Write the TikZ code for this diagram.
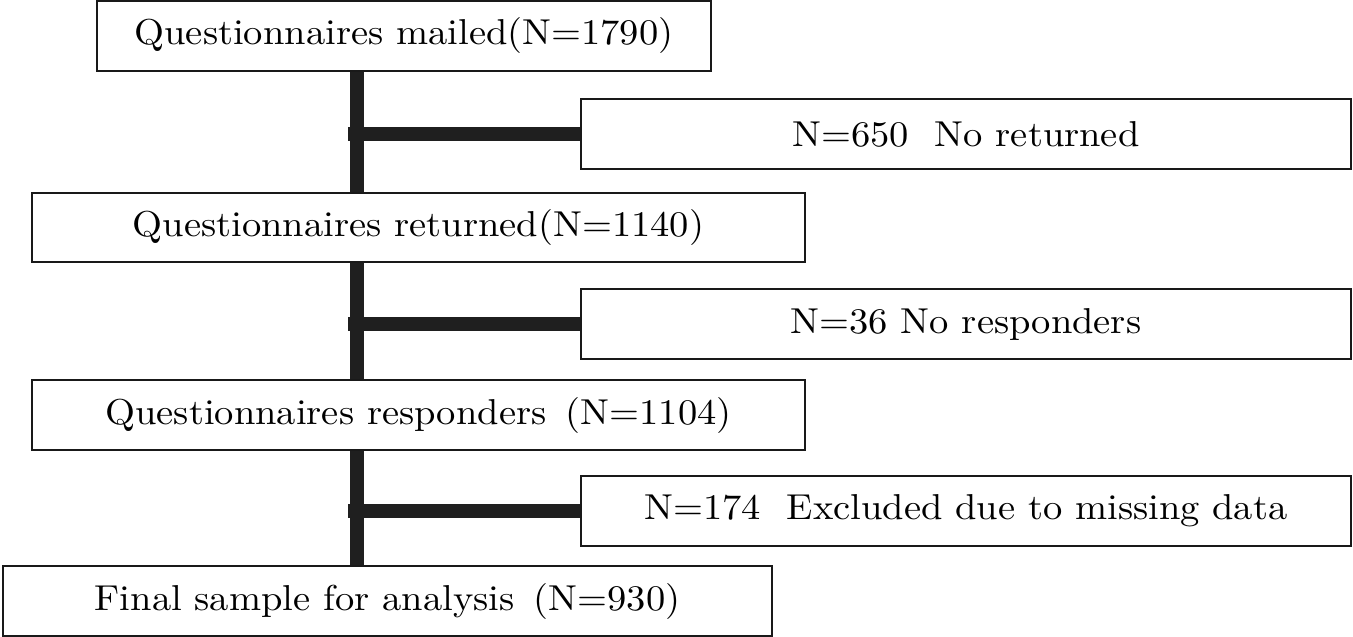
\documentclass[tikz,border=0pt]{standalone}
\usepackage{fontspec}
\setmainfont{lmroman10-regular.otf}
\usepackage{graphicx}
\newcommand{\sqz}[1]{\scalebox{1.07}[1]{#1}}
\tikzset{
  box/.style={draw=black!90, line width=2.5pt, rectangle, inner sep=0pt, fill=white,
    font=\fontsize{36}{40}\selectfont},
  conn/.style={line width=14pt, draw=black!88}
}
\begin{document}
\begin{tikzpicture}[x=1pt,y=-1pt]
\useasboundingbox (0,0) rectangle (1353,637);
\coordinate (v) at (357,0);
% main boxes
\node[box, minimum width=614pt, minimum height=70pt] (b1) at (404,36) {\sqz{Questionnaires mailed(N=1790)}};
\node[box, minimum width=773pt, minimum height=69pt] (b2) at (418.5,227.5) {\sqz{Questionnaires returned(N=1140)}};
\node[box, minimum width=773pt, minimum height=70pt] (b3) at (418.5,415) {\sqz{Questionnaires responders\enspace(N=1104)}};
\node[box, minimum width=769pt, minimum height=70pt] (b4) at (387.5,601) {\sqz{Final sample for analysis\enspace(N=930)}};
% side boxes
\node[box, minimum width=770pt, minimum height=70pt] (s1) at (966,134) {\sqz{N=650\ \ No returned}};
\node[box, minimum width=770pt, minimum height=70pt] (s2) at (966,324) {\sqz{N=36 No responders}};
\node[box, minimum width=770pt, minimum height=70pt] (s3) at (966,511) {\sqz{N=174\ \ Excluded due to missing data}};
% connectors
\draw[conn] (b1.south -| v) -- (b2.north -| v);
\draw[conn] (b2.south -| v) -- (b3.north -| v);
\draw[conn] (b3.south -| v) -- (b4.north -| v);
\draw[conn] ([xshift=-9pt]v |- s1.west) -- (s1.west);
\draw[conn] ([xshift=-9pt]v |- s2.west) -- (s2.west);
\draw[conn] ([xshift=-9pt]v |- s3.west) -- (s3.west);
\end{tikzpicture}
\end{document}
